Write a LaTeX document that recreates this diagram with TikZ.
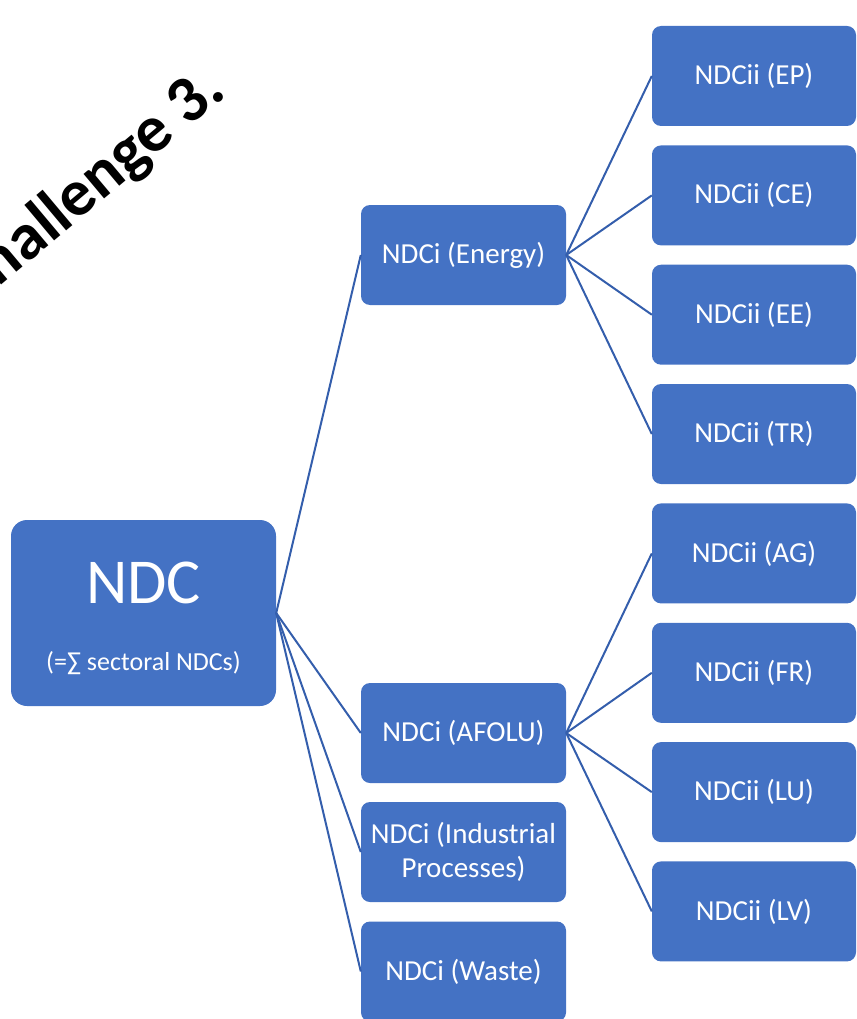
\documentclass[tikz,border=0pt]{standalone}
\usepackage{fontspec}
\setmainfont{Carlito}
\definecolor{boxblue}{HTML}{4472C4}
\definecolor{lineblue}{RGB}{52,94,172}
\begin{document}
\begin{tikzpicture}[x=1pt,y=-1pt,
  box/.style={rectangle, rounded corners=9pt, fill=boxblue, text=white, inner sep=0pt, align=center,
    font=\fontsize{29}{34}\selectfont},
  midbox/.style={box, minimum width=205pt, minimum height=100pt},
  leafbox/.style={box, minimum width=204pt, minimum height=100pt},
  conn/.style={draw=lineblue, line width=2pt}]
\useasboundingbox (0,0) rectangle (856,1019);
% root
\node[box, rounded corners=16pt, minimum width=265pt, minimum height=186pt] (ndc) at (143.5,613) {};
\node[text=white, font=\fontsize{64}{70}\selectfont, inner sep=0pt] (ndct) at (143.5,583) {NDC};
\node[text=white, font=\fontsize{26}{30}\selectfont, inner sep=0pt] (ndcs) at (143.5,663) {(=∑ sectoral NDCs)};
% middle
\node[midbox] (energy) at (463.5,255) {NDCi (Energy)};
\node[midbox] (afolu) at (463.5,733) {NDCi (AFOLU)};
\node[midbox] (indus) at (463.5,852) {NDCi (Industrial\\Processes)};
\node[midbox] (waste) at (463.5,971.5) {NDCi (Waste)};
% leaves
\node[leafbox] (ep) at (754,76) {NDCii (EP)};
\node[leafbox] (ce) at (754,195.4) {NDCii (CE)};
\node[leafbox] (ee) at (754,314.7) {NDCii (EE)};
\node[leafbox] (tr) at (754,434) {NDCii (TR)};
\node[leafbox] (ag) at (754,553.4) {NDCii (AG)};
\node[leafbox] (fr) at (754,672.8) {NDCii (FR)};
\node[leafbox] (lu) at (754,792.1) {NDCii (LU)};
\node[leafbox] (lv) at (754,911.4) {NDCii (LV)};
% connectors
\foreach \t in {energy,afolu,indus,waste} \draw[conn] (ndc.east) -- (\t.west);
\foreach \t in {ep,ce,ee,tr} \draw[conn] (energy.east) -- (\t.west);
\foreach \t in {ag,fr,lu,lv} \draw[conn] (afolu.east) -- (\t.west);
% title
\node[anchor=base east, rotate=40, inner sep=0pt, font=\fontsize{66}{72}\selectfont\bfseries] (title) at (228,95) {Challenge 3.};
\end{tikzpicture}
\end{document}
